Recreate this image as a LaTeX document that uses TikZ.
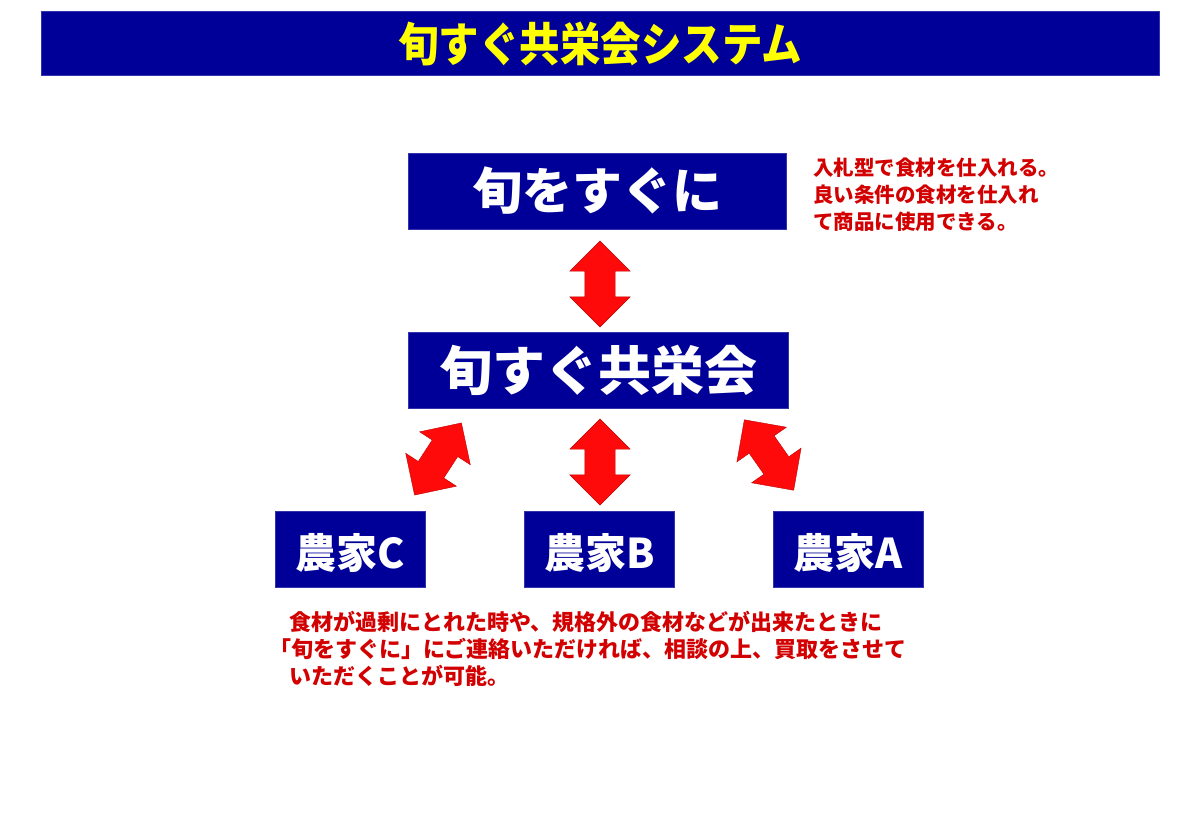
\documentclass[tikz,border=0pt]{standalone}
\usepackage{fontspec}
\newfontfamily\cjk{Noto Sans CJK JP}
\usetikzlibrary{shapes.arrows}
\definecolor{navy}{RGB}{0,0,153}
\definecolor{tred}{RGB}{210,0,0}
\definecolor{ared}{RGB}{255,10,10}
\tikzset{
  box/.style={fill=navy, draw=navy!80!white, line width=0.6pt, text=white, font=\cjk\bfseries, inner sep=0pt},
  farmer/.style={box, minimum width=150pt, minimum height=76pt},
  farmertext/.style={text=white, font=\cjk\bfseries\fontsize{41}{41}\selectfont, inner sep=0pt},
  blockarrow/.style={double arrow, fill=ared, draw=red!75!black, line width=0.4pt,
     minimum height=86pt, inner sep=0pt, inner ysep=15pt, double arrow head extend=15pt, double arrow tip angle=90},
  note/.style={text=tred, font=\cjk\bfseries\fontsize{22}{27}\selectfont, anchor=west, inner sep=0pt}
}
\begin{document}
\begin{tikzpicture}[x=1pt,y=-1pt]
\useasboundingbox (0,0) rectangle (1200,831);
\fill[white] (0,0) rectangle (1200,831);
% title bar
\node[box, minimum width=1118pt, minimum height=64pt] (title) at (600,43) {};
\node[text={rgb,255:red,255;green,255;blue,0}, font=\cjk\bfseries\fontsize{44}{44}\selectfont, inner sep=0pt] (titletext) at (600,44) {\scalebox{0.92}[1.05]{旬すぐ共栄会システム}};
% boxes
\node[box, minimum width=378pt, minimum height=76pt, font=\cjk\bfseries\fontsize{50}{50}\selectfont] (shun) at (597,191) {旬をすぐに};
\node[box, minimum width=380pt, minimum height=76pt, font=\cjk\bfseries\fontsize{53}{53}\selectfont] (kyo) at (598,370) {旬すぐ共栄会};
\node[farmer] (fc) at (350,549) {};
\node[farmer] (fb) at (599.5,549) {};
\node[farmer] (fa) at (848,549) {};
\node[farmertext] (fct) at ([yshift=-4pt]fc.center) {農家C};
\node[farmertext] (fbt) at ([yshift=-4pt]fb.center) {農家B};
\node[farmertext] (fat) at ([yshift=-4pt]fa.center) {農家A};
% arrows
\node[blockarrow, rotate=90] (a1) at (600,284) {};
\node[blockarrow, rotate=90] (a2) at (600,462) {};
\node[blockarrow, rotate=57] (a3) at (438,459) {};
\node[blockarrow, rotate=-55] (a4) at (769,455) {};
% notes
\node[note, align=left, anchor=north west, font=\cjk\bfseries\fontsize{20.5}{27}\selectfont] (n1) at (813,158) {入札型で食材を仕入れる。\\良い条件の食材を仕入れ\\て商品に使用できる。};
\node[note] (b1) at (289,622) {食材が過剰にとれた時や、規格外の食材などが出来たときに};
\node[note] (b2) at (269,649) {「旬をすぐに」にご連絡いただければ、相談の上、買取をさせて};
\node[note] (b3) at (289,676) {いただくことが可能。};
\end{tikzpicture}
\end{document}
